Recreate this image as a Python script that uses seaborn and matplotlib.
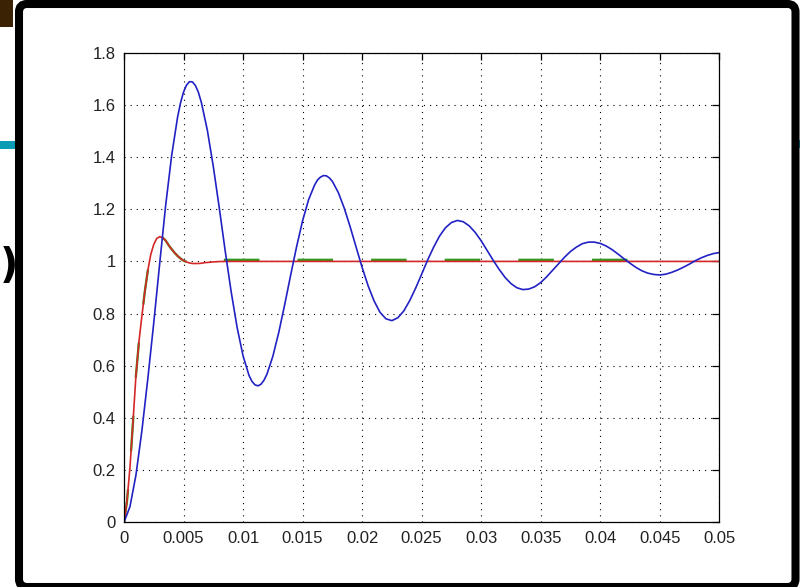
import numpy as np
import pandas as pd
import matplotlib
matplotlib.use("Agg")
import matplotlib.pyplot as plt
import seaborn as sns
from matplotlib.patches import FancyBboxPatch, Rectangle
from matplotlib.transforms import IdentityTransform

# ---------------- data ----------------
blue_t = np.linspace(0, 0.05, 101)
blue_y = [0.000, 0.060, 0.180, 0.350, 0.550, 0.765, 0.993, 1.215, 1.405, 1.553,
          1.649, 1.689, 1.674, 1.609, 1.503, 1.364, 1.206, 1.040, 0.884, 0.747,
          0.638, 0.563, 0.527, 0.529, 0.567, 0.636, 0.728, 0.835, 0.948, 1.057,
          1.156, 1.236, 1.292, 1.323, 1.328, 1.307, 1.264, 1.204, 1.132, 1.054,
          0.977, 0.907, 0.849, 0.805, 0.780, 0.773, 0.784, 0.810, 0.850, 0.898,
          0.951, 1.005, 1.054, 1.097, 1.129, 1.149, 1.157, 1.152, 1.136, 1.111,
          1.079, 1.042, 1.005, 0.970, 0.939, 0.915, 0.899, 0.892, 0.894, 0.903,
          0.919, 0.941, 0.966, 0.991, 1.016, 1.038, 1.055, 1.068, 1.074, 1.074,
          1.069, 1.059, 1.045, 1.028, 1.010, 0.993, 0.977, 0.964, 0.955, 0.950,
          0.948, 0.951, 0.958, 0.967, 0.978, 0.990, 1.003, 1.014, 1.023, 1.030,
          1.034]
# extra readings around the sharpest turns of the blue curve
blue_extra_t = [0.00475, 0.00525, 0.00575, 0.00625,
                0.01075, 0.01125, 0.01175,
                0.01625, 0.01675, 0.01725]
blue_extra_y = [1.608, 1.676, 1.688, 1.648,
                0.540, 0.523, 0.544,
                1.312, 1.329, 1.320]

red_t = [0.0, 0.00025, 0.0005, 0.00075, 0.001, 0.00125, 0.0015, 0.00175, 0.002,
         0.00225, 0.0025, 0.00275, 0.003, 0.00325, 0.0035, 0.00375, 0.004,
         0.00425, 0.0045, 0.00475, 0.005, 0.00525, 0.0055, 0.00575, 0.006,
         0.00625, 0.0065, 0.00675, 0.007, 0.0075, 0.008, 0.009, 0.05]
red_y = [0.000, 0.080, 0.210, 0.380, 0.560, 0.690, 0.790, 0.885, 0.965,
         1.027, 1.065, 1.088, 1.095, 1.091, 1.080, 1.062, 1.047,
         1.033, 1.021, 1.011, 1.003, 0.998, 0.994, 0.992, 0.992,
         0.992, 0.993, 0.995, 0.996, 0.998, 0.9995, 1.000, 1.000]

green_t = [0.0, 0.00025, 0.0005, 0.00075, 0.001, 0.00125, 0.0015, 0.00175, 0.002,
           0.00225, 0.0025, 0.00275, 0.003, 0.00325, 0.0035, 0.00375, 0.004,
           0.00425, 0.0045, 0.00475, 0.005, 0.00525, 0.0055, 0.00575, 0.006,
           0.00625, 0.0065, 0.00675, 0.007, 0.0075, 0.008, 0.009, 0.045]
green_y = [0.000, 0.080, 0.210, 0.380, 0.560, 0.690, 0.790, 0.885, 0.965,
           1.027, 1.065, 1.088, 1.095, 1.091, 1.080, 1.062, 1.047,
           1.033, 1.021, 1.011, 1.003, 0.998, 0.994, 0.990, 0.989,
           0.989, 0.990, 0.993, 0.996, 1.000, 1.006, 1.006, 1.006]

x_ticks = [0, 0.005, 0.01, 0.015, 0.02, 0.025, 0.03, 0.035, 0.04, 0.045, 0.05]
x_labels = ["0", "0.005", "0.01", "0.015", "0.02", "0.025", "0.03", "0.035",
            "0.04", "0.045", "0.05"]
y_ticks = [0, 0.2, 0.4, 0.6, 0.8, 1.0, 1.2, 1.4, 1.6, 1.8]
y_labels = ["0", "0.2", "0.4", "0.6", "0.8", "1", "1.2", "1.4", "1.6", "1.8"]

blue_df = pd.DataFrame({"t": list(blue_t) + blue_extra_t,
                        "y": blue_y + blue_extra_y}).sort_values("t")

# ---------------- style ----------------
sns.set_style("white")
plt.rcParams['font.family'] = ['Liberation Sans', 'DejaVu Sans']
plt.rcParams['lines.scale_dashes'] = False

W, H = 800, 587
fig = plt.figure(figsize=(W / 100, H / 100), dpi=100)
fig.patch.set_facecolor('white')
ident = IdentityTransform()

# slide remnants outside the frame
fig.add_artist(Rectangle((0, H - 27), 13, 27, transform=ident,
                         facecolor='#3b2205', edgecolor='none', zorder=0))
fig.add_artist(Rectangle((0, H - 149), 16, 8, transform=ident,
                         facecolor='#0a9bb5', edgecolor='none', zorder=0))
fig.add_artist(Rectangle((797, H - 148), 3, 8, transform=ident,
                         facecolor='#0a9bb5', edgecolor='none', zorder=0))
fig.text(0, H - 266, ")", transform=ident, ha='left', va='center',
         fontsize=29, fontweight='bold', family='DejaVu Sans', color='black')

# black rounded frame
fig.add_artist(FancyBboxPatch((19, 0), 776.5, H - 4, transform=ident,
                              boxstyle="round,pad=0,rounding_size=8",
                              facecolor='white', edgecolor='black',
                              linewidth=5.8, zorder=1))

# ---------------- axes ----------------
L, R, T, B = 124, 719.3, 52.7, 522.3
ax = fig.add_axes([L / W, (H - B) / H, (R - L) / W, (B - T) / H])
ax.set_zorder(2)
ax.set_facecolor('white')

sns.lineplot(x=green_t, y=green_y, ax=ax, color='#2f9a1c', linewidth=1.7,
             sort=False, estimator=None)
ax.lines[-1].set_linestyle((1.6, (25.6, 27.4)))
sns.lineplot(x=red_t, y=red_y, ax=ax, color='#d42828', linewidth=1.2,
             sort=False, estimator=None)
sns.lineplot(data=blue_df, x="t", y="y", ax=ax, color='#2222c4', linewidth=1.2,
             sort=False, estimator=None)

ax.set_xlim(0, 0.05)
ax.set_ylim(0, 1.8)
ax.set_xticks(x_ticks)
ax.set_xticklabels(x_labels)
ax.set_yticks(y_ticks)
ax.set_yticklabels(y_labels)
ax.set_xlabel("")
ax.set_ylabel("")
ax.tick_params(direction='in', top=True, right=True, length=5, width=0.9,
               labelsize=12, pad=6, colors='black', labelcolor='#222222')
ax.grid(True, color='black', linestyle=(0, (0.8, 3.6)), linewidth=0.8)
ax.set_axisbelow(True)
for s in ax.spines.values():
    s.set_color('black')
    s.set_linewidth(0.9)
    s.set_visible(True)

fig.savefig('out.png', dpi=100)
